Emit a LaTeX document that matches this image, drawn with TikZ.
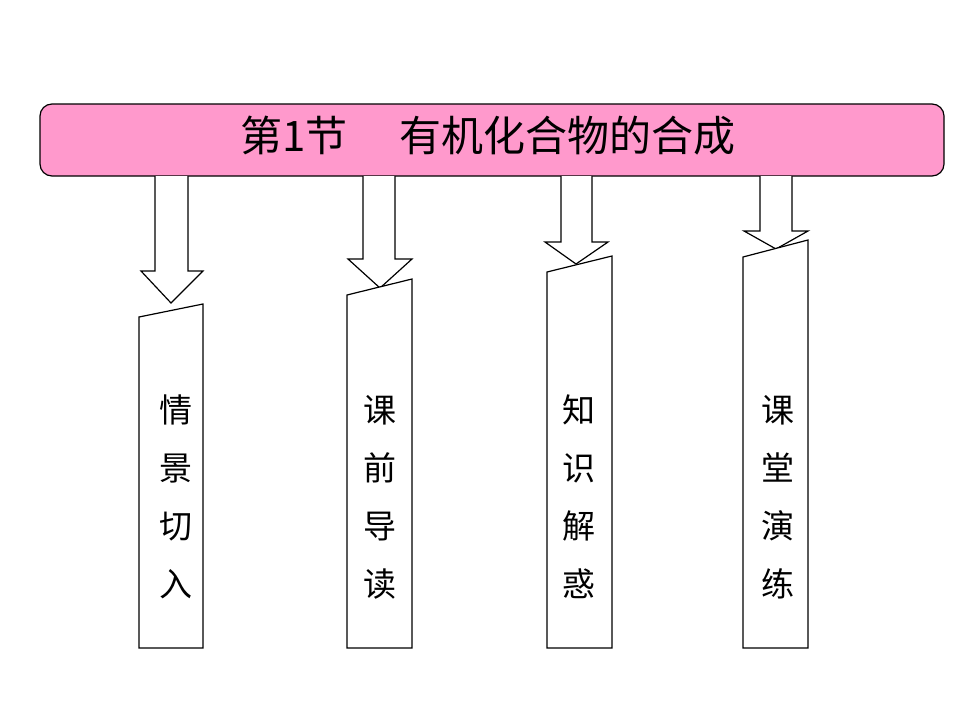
\documentclass[tikz,border=0pt]{standalone}
\usepackage{fontspec}
\newfontfamily\cjk{Noto Sans CJK SC}
\usetikzlibrary{positioning}
\definecolor{barpink}{HTML}{FF99CC}

\begin{document}
\begin{tikzpicture}[
			x=1pt, y=-1pt,
			bar/.style={draw, line width=1.2pt, fill=barpink, rounded corners=12pt},
			blockarrow/.style={draw, line width=1.2pt, fill=white},
			panel/.style={draw, line width=1.2pt, fill=white},
			titletext/.style={font=\cjk\fontsize{42}{50}\selectfont, inner sep=0pt},
			vtext/.style={font=\cjk\fontsize{33}{58}\selectfont, align=center, inner sep=0pt}
			]
			\useasboundingbox (0,0) rectangle (960,720);
			
			% Title bar
			\draw[bar] (40,104) rectangle (944,176);
			\node[titletext] (title) at (488,136) {第1节\hspace{52pt}有机化合物的合成};
			
			% Block arrows down from the bar
			\draw[blockarrow] (155,176) -- (155,271) -- (141,271) -- (171,303) -- (203,271) -- (188,271) -- (188,176);
			\draw[blockarrow] (363,176) -- (363,259) -- (348,259) -- (380,288) -- (412,259) -- (395,259) -- (395,176);
			\draw[blockarrow] (561,176) -- (561,242) -- (545,242) -- (576,264) -- (608,242) -- (592,242) -- (592,176);
			\draw[blockarrow] (760,176) -- (760,231) -- (744,231) -- (776,249) -- (808,231) -- (792,231) -- (792,176);
			
			% Panels with slanted tops
			\draw[panel] (139,317) -- (203,304) -- (203,648) -- (139,648) -- cycle;
			\draw[panel] (347,295) -- (412,279) -- (412,648) -- (347,648) -- cycle;
			\draw[panel] (547,272) -- (612,256) -- (612,648) -- (547,648) -- cycle;
			\draw[panel] (743,257) -- (808,240) -- (808,648) -- (743,648) -- cycle;
			
			% Panel labels
			\node[vtext] (intro) at (176,497) {情\\景\\切\\入};
			\node[vtext] (preread) at (380,497) {课\\前\\导\\读};
			\node[vtext] (knowledge) at (579,497) {知\\识\\解\\惑};
			\node[vtext] (practice) at (778,497) {课\\堂\\演\\练};
			
		\end{tikzpicture}
\end{document}
